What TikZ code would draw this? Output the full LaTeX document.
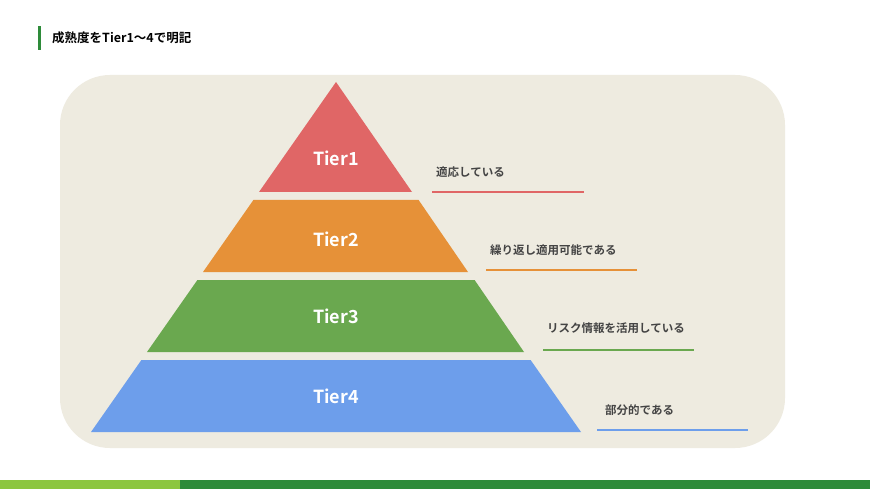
\documentclass[tikz,border=0pt]{standalone}
\usepackage{fontspec}
\setmainfont{Noto Sans CJK JP}[BoldFont={Noto Sans CJK JP Bold}]
\definecolor{bg}{HTML}{EEEBE0}
\definecolor{tone}{HTML}{E06666}
\definecolor{ttwo}{HTML}{E69138}
\definecolor{tthree}{HTML}{6AA84F}
\definecolor{tfour}{HTML}{6D9EEB}
\definecolor{gdark}{HTML}{2E8B3A}
\definecolor{glight}{HTML}{8CC63F}
\definecolor{txt}{HTML}{444444}
\begin{document}
\begin{tikzpicture}[x=1pt,y=-1pt,
  tier/.style={text=white,font=\fontsize{18}{20}\selectfont\bfseries},
  lbl/.style={anchor=west,text=txt,font=\fontsize{11.5}{13}\selectfont\bfseries,inner sep=0},
  uline/.style={line width=1.5pt}]
\useasboundingbox (0,0) rectangle (870,489);
\fill[white] (0,0) rectangle (870,489);
\fill[gdark] (38,26) rectangle (41,50);
\node[anchor=west,inner sep=0,font=\fontsize{12.5}{14}\selectfont\bfseries] (title) at (52,38) {成熟度をTier1〜4で明記};
\fill[bg,rounded corners=50pt] (60,75) rectangle (785,448);
\fill[tone] (336,82) -- (412,192) -- (259,192) -- cycle;
\fill[ttwo] (253.4,200) -- (418.6,200) -- (468,272) -- (203,272) -- cycle;
\fill[tthree] (197.4,280) -- (474.6,280) -- (524,352) -- (147,352) -- cycle;
\fill[tfour] (141.4,360) -- (530.6,360) -- (581,432) -- (91,432) -- cycle;
\node[tier] (t1) at (336,158) {Tier1};
\node[tier] (t2) at (336,239) {Tier2};
\node[tier] (t3) at (336,316) {Tier3};
\node[tier] (t4) at (336,396) {Tier4};
\node[lbl] (l1) at (436,172) {適応している};
\node[lbl] (l2) at (490,250) {繰り返し適用可能である};
\node[lbl] (l3) at (547,328) {リスク情報を活用している};
\node[lbl] (l4) at (605,410) {部分的である};
\draw[uline,tone] (432,192) -- (584,192);
\draw[uline,ttwo] (486,270) -- (637,270);
\draw[uline,tthree] (543,350) -- (694,350);
\draw[uline,tfour] (597,430) -- (748,430);
\fill[glight] (0,480) rectangle (180,489);
\fill[gdark] (180,480) rectangle (870,489);
\end{tikzpicture}
\end{document}
